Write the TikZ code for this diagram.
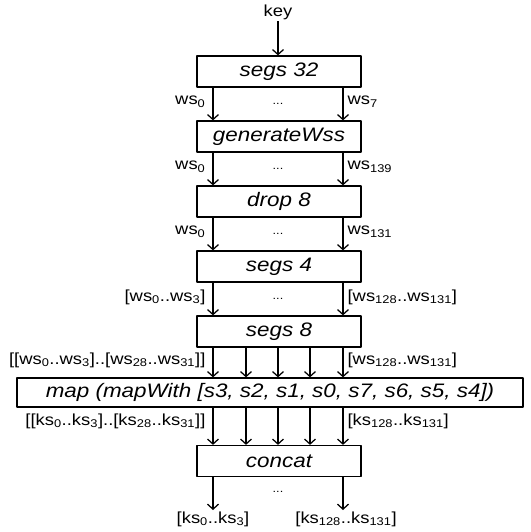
\documentclass[tikz,border=0pt]{standalone}
\usepackage{fontspec}
\setmainfont{Liberation Sans}[FakeStretch=1.15]
\usetikzlibrary{arrows.meta}
\newcommand{\wsub}[1]{ws\textsubscript{#1}}
\newcommand{\ksub}[1]{ks\textsubscript{#1}}
\begin{document}
\begin{tikzpicture}[x=1pt,y=-1pt,>={Straight Barb[length=5pt,width=11pt]},line join=round,line width=1.25pt]
	\tikzset{fn box/.style={draw,minimum width=164pt,minimum height=31pt,inner sep=0pt,font=\fontsize{19.5}{20}\selectfont\itshape},
		lbl/.style={inner sep=1pt,font=\fontsize{16}{17}\selectfont},
		dots/.style={inner sep=0pt,font=\fontsize{11}{11}\selectfont}}
	\useasboundingbox (0,0) rectangle (530,532);
	%%Các khối
	\node[fn box] (segsA) at (279,71.5) {segs 32};
	\node[fn box] (gen) at (279,136.5) {generateWss};
	\node[fn box] (drop) at (279,201.5) {drop 8};
	\node[fn box] (segsB) at (279,266.5) {segs 4};
	\node[fn box] (segsC) at (279,331.5) {segs 8};
	\node[fn box,minimum width=506pt,minimum height=29pt] (map) at (270,392.5) {map (mapWith [s3, s2, s1, s0, s7, s6, s5, s4])};
	\node[fn box] (concat) at (279,461) {concat};
	%%Đầu vào
	\node[lbl] (key) at (278,12) {key};
	\draw[->] (key.south) -- (key.south |- segsA.north);
	%%Mũi tên giữa các khối
	\foreach \a/\b in {segsA/gen,gen/drop,drop/segsB,segsB/segsC}
		\foreach \x in {213,343}
			\draw[->] (\a.south -| \x,0) -- (\b.north -| \x,0);
	\foreach \a/\b in {segsC/map,map/concat}
		\foreach \x in {213,246,278,310,343}
			\draw[->] (\a.south -| \x,0) -- (\b.north -| \x,0);
	%%Nhãn
	\node[lbl,anchor=east] (wsA) at (207,102) {\wsub{0}};
	\node[lbl,anchor=west] (wsB) at (346,102) {\wsub{7}};
	\node[lbl,anchor=east] (wsC) at (207,167) {\wsub{0}};
	\node[lbl,anchor=west] (wsD) at (346,167) {\wsub{139}};
	\node[lbl,anchor=east] (wsE) at (207,232) {\wsub{0}};
	\node[lbl,anchor=west] (wsF) at (346,232) {\wsub{131}};
	\node[lbl,anchor=east] (wsG) at (207,297) {[\wsub{0}..\wsub{3}]};
	\node[lbl,anchor=west] (wsH) at (346,297) {[\wsub{128}..\wsub{131}]};
	\node[lbl,anchor=east] (wsI) at (207,360) {[[\wsub{0}..\wsub{3}]..[\wsub{28}..\wsub{31}]]};
	\node[lbl,anchor=west] (wsJ) at (346,360) {[\wsub{128}..\wsub{131}]};
	\node[lbl,anchor=east] (ksA) at (207,421) {[[\ksub{0}..\ksub{3}]..[\ksub{28}..\ksub{31}]]};
	\node[lbl,anchor=west] (ksB) at (346,421) {[\ksub{128}..\ksub{131}]};
	\node[dots] (dA) at (278,104) {...};
	\node[dots] (dB) at (278,169) {...};
	\node[dots] (dC) at (278,234) {...};
	\node[dots] (dD) at (278,299) {...};
	\node[dots] (dE) at (278,492) {...};
	%%Đầu ra
	\node[lbl,anchor=north] (outA) at (213,510) {[\ksub{0}..\ksub{3}]};
	\node[lbl,anchor=north] (outB) at (346,510) {[\ksub{128}..\ksub{131}]};
	\draw[->] (concat.south -| 213,0) -- (213,0 |- outA.north);
	\draw[->] (concat.south -| 343,0) -- (343,0 |- outB.north);
\end{tikzpicture}
\end{document}
